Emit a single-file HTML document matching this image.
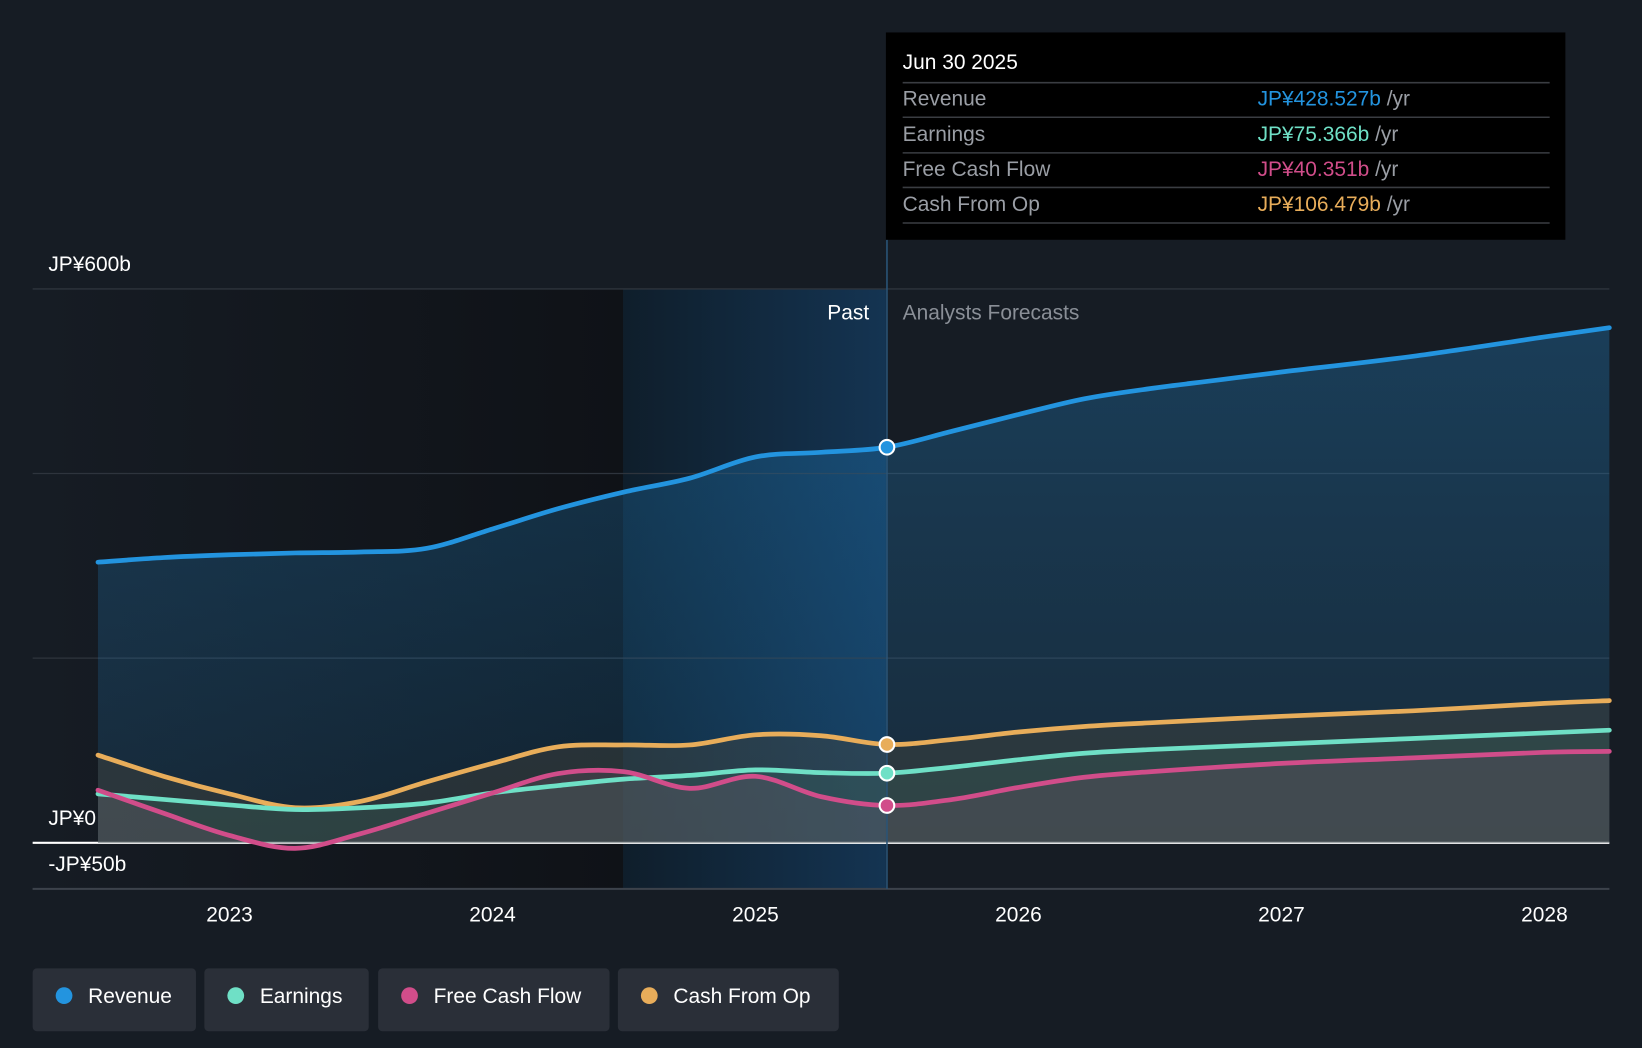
<!DOCTYPE html>
<html><head><meta charset="utf-8"><style>
html,body{margin:0;padding:0;background:#161c24;}
svg{display:block;font-family:"Liberation Sans","Noto Sans CJK JP",sans-serif;}
</style></head><body>
<svg id="chart" width="1642" height="1048" viewBox="0 0 1568 1001" xmlns="http://www.w3.org/2000/svg">
<defs>
<linearGradient id="pastDark" x1="0" x2="1" y1="0" y2="0"><stop offset="0" stop-color="#161c24"/><stop offset="1" stop-color="#0f1217"/></linearGradient>
<linearGradient id="pastBand" x1="0" x2="1" y1="0" y2="0"><stop offset="0" stop-color="#0f1e2b"/><stop offset="1" stop-color="#143452"/></linearGradient>
<linearGradient id="revFill" x1="0" x2="0" y1="0" y2="1"><stop offset="0" stop-color="#2394df" stop-opacity="0.28"/><stop offset="1" stop-color="#2394df" stop-opacity="0.12"/></linearGradient>
</defs>
<rect x="0" y="0" width="1568" height="1001" fill="#161c24"/>
<rect x="31" y="276" width="564" height="573" fill="url(#pastDark)"/>
<rect x="595" y="276" width="251" height="573" fill="url(#pastBand)"/>
<g id="grid"></g>
<g id="areas"></g>
<g id="lines"></g>
<g id="labels"></g>
</svg>
<script>
const revYears=[2022.5,2022.75,2023,2023.25,2023.5,2023.75,2024,2024.25,2024.5,2024.75,2025,2025.25,2025.5,2025.75,2026,2026.25,2026.5,2026.75,2027,2027.5,2028,2028.25];
const revenue=[304,309,312,314,315,319,340,362,380,395,418,423,428.5,446,464,481,492,501,510,527,548,558];
const serYears=[2022.5,2022.75,2023,2023.25,2023.5,2023.75,2024,2024.25,2024.5,2024.75,2025,2025.25,2025.5,2025.75,2026,2026.25,2026.5,2027,2027.5,2028,2028.25];
const cashFromOp=[95,72,53,38,45,66,86,104,106,106,117,116,106.5,112,120,126,130,137,143,151,154];
const earnings=[53,47,41,36,38,43,54,62,69,73,79,76,75.4,82,90,97,101,107,113,119,122];
const freeCashFlow=[57,32,8,-6,10,32,54,75,77,59,72,50,40.4,47,60,71,77,86,92,98,99];
const yTicks=[-50,0,200,400,600];
const yTickLabels={"-50":"-JP¥50b","0":"JP¥0","600":"JP¥600b"};
const xTicks=[2023,2024,2025,2026,2027,2028];
const nowYear=2025.5;

const NS="http://www.w3.org/2000/svg";
const X=t=>219+(t-2023)*251.2;
const Y=v=>805-v*0.8817;
const L=1537;
function el(tag,attrs,parent){const e=document.createElementNS(NS,tag);for(const k in attrs)e.setAttribute(k,attrs[k]);parent.appendChild(e);return e;}
function smooth(pts){let d=`M${pts[0][0]},${pts[0][1]}`;for(let i=0;i<pts.length-1;i++){const p0=pts[Math.max(0,i-1)],p1=pts[i],p2=pts[i+1],p3=pts[Math.min(pts.length-1,i+2)];const c1=[p1[0]+(p2[0]-p0[0])/6,p1[1]+(p2[1]-p0[1])/6],c2=[p2[0]-(p3[0]-p1[0])/6,p2[1]-(p3[1]-p1[1])/6];d+=` C${c1[0]},${c1[1]} ${c2[0]},${c2[1]} ${p2[0]},${p2[1]}`;}return d;}
function pts(xs,vs){return xs.map((t,i)=>[Math.min(L,X(t)),Y(vs[i])]);}

const grid=document.getElementById('grid');
yTicks.forEach(v=>{
  const g=el('line',{x1:31,x2:L,y1:Y(v),y2:Y(v),stroke:v===0?'#ffffff':(v===-50?'#3c424b':'#2e343d'),'stroke-width':v===0?2:1.2},grid);
  
  
});
const base=el('line',{x1:31,x2:L,y1:849,y2:849,stroke:'#3c424b','stroke-width':2},grid);



const areas=document.getElementById('areas');
function area(xs,vs,fill,name){const p=pts(xs,vs);const d=smooth(p)+` L${p[p.length-1][0]},${Y(0)} L${p[0][0]},${Y(0)} Z`;const a=el('path',{d:d,fill:fill},areas);}
area(revYears,revenue,'url(#revFill)','revenue-area');
area(serYears,cashFromOp,'rgba(80,75,60,0.35)','cash-from-op-area');
area(serYears,earnings,'rgba(60,110,100,0.25)','earnings-area');
area(serYears,freeCashFlow,'rgba(120,90,110,0.25)','free-cash-flow-area');

const lines=document.getElementById('lines');
const series=[[revYears,revenue,'#2394df','revenue'],[serYears,cashFromOp,'#e8ad5a','cash-from-op'],[serYears,earnings,'#6fe0c6','earnings'],[serYears,freeCashFlow,'#d14d8a','free-cash-flow']];
series.forEach(s=>{
  const ln=el('path',{d:smooth(pts(s[0],s[1])),fill:'none',stroke:s[2],'stroke-width':4.5,'stroke-linecap':'round'},lines);
  
  
});
const vline=el('line',{x1:X(nowYear),x2:X(nowYear),y1:229,y2:849,stroke:'#2a5478','stroke-width':1.5},lines);


series.forEach(s=>{
  const i=s[0].indexOf(nowYear);
  const c=el('circle',{cx:X(nowYear),cy:Y(s[1][i]),r:7,fill:s[2],stroke:'#fff','stroke-width':2},lines);
  
  
});

const lab=document.getElementById('labels');
function txt(x,y,s,attrs,name,inter){const t=el('text',Object.assign({x:x,y:y,'font-size':20,fill:'#fff'},attrs||{}),lab);t.textContent=s;return t;}
for(const k in yTickLabels){const v=+k;const yy=Y(v)-17;txt(46,yy,yTickLabels[k],{},'y-tick-label-'+k);}
xTicks.forEach(t=>{txt(X(t),880,String(t),{'text-anchor':'middle'},'x-tick-label-'+t);});
txt(830,305,'Past',{'text-anchor':'end'},'past-label');
txt(862,305,'Analysts Forecasts',{fill:'#8a8f97'},'forecast-label');

// tooltip
const tt=el('g',{},lab);
el('rect',{x:846,y:31,width:649,height:198,fill:'#000'},tt);
const tH=el('text',{x:862,y:66,'font-size':20,fill:'#fff'},tt);tH.textContent='Jun 30 2025';
const rows=[['Revenue','JP¥428.527b','#2394df'],['Earnings','JP¥75.366b','#6fe0c6'],['Free Cash Flow','JP¥40.351b','#d14d8a'],['Cash From Op','JP¥106.479b','#e8ad5a']];
[79,112,146,179,213].forEach(y=>el('line',{x1:862,x2:1480,y1:y,y2:y,stroke:'#3a3d42','stroke-width':1.5},tt));
rows.forEach((r,i)=>{const y=101+i*33.5;
 const a=el('text',{x:862,y:y,'font-size':20,fill:'#9a9ea5'},tt);a.textContent=r[0];
 const b=el('text',{x:1201,y:y,'font-size':20,fill:r[2]},tt);b.textContent=r[1];
 const c=el('tspan',{fill:'#9a9ea5'},b);c.textContent=' /yr';});

// legend
const leg=[['Revenue','#2394df',31,156],['Earnings','#6fe0c6',195,157],['Free Cash Flow','#d14d8a',361,221],['Cash From Op','#e8ad5a',590,211]];
leg.forEach(l=>{const g=el('g',{},lab);
 
 
 el('rect',{x:l[2],y:925,width:l[3],height:60,rx:4,fill:'#2a2f38'},g);
 el('circle',{cx:l[2]+30,cy:951,r:8,fill:l[1]},g);
 const t=el('text',{x:l[2]+53,y:958,'font-size':20,fill:'#fff'},g);t.textContent=l[0];});
</script>
</body></html>
